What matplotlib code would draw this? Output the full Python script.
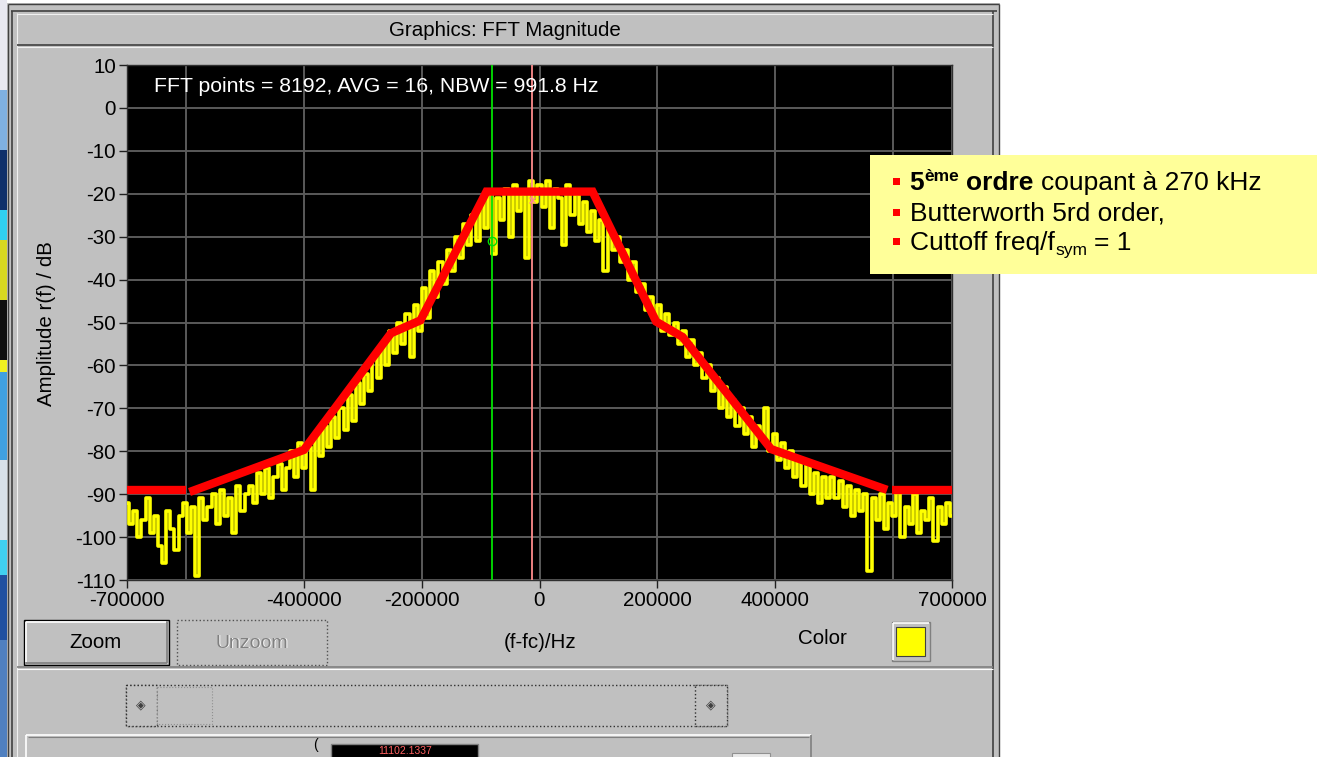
import matplotlib
matplotlib.use('Agg')
import matplotlib.pyplot as plt
from matplotlib.patches import Rectangle
from matplotlib import font_manager
import numpy as np

# ---------------- data ----------------
freq_start = -700000
freq_step = 7000
trace_db = [
    -92, -97, -94, -100, -96, -91, -99, -95, -102, -106,
    -94, -98, -103, -95, -92, -99, -93, -109, -91, -96,
    -93, -90, -97, -89, -95, -91, -99, -88, -94, -90,
    -88, -92, -85, -90, -84, -91, -86, -83, -89, -84,
    -80, -86, -78, -84, -79, -89, -76, -81, -74, -79,
    -72, -77, -70, -75, -67, -73, -64, -69, -62, -66,
    -58, -63, -55, -60, -52, -57, -50, -55, -48, -58,
    -46, -52, -42, -49, -38, -44, -36, -41, -33, -38,
    -30, -35, -27, -32, -25, -31, -22, -28, -20, -34,
    -21, -26, -19, -30, -18, -24, -20, -35, -17, -22,
    -18,
    -23, -17, -28, -19, -21, -32, -18, -25, -20, -27,
    -22, -29, -24, -31, -26, -38, -28, -33, -30, -36,
    -33, -40, -36, -43, -41, -47, -44, -49, -46, -52,
    -48, -53, -50, -55, -52, -58, -54, -60, -57, -63,
    -60, -66, -63, -70, -65, -72, -68, -74, -70, -76,
    -72, -79, -74, -77, -70, -80, -76, -82, -78, -84,
    -80, -86, -82, -88, -83, -90, -85, -92, -86, -91,
    -86, -91, -87, -93, -88, -95, -89, -94, -90, -108,
    -91, -96, -90, -98, -92, -95, -89, -100, -93, -97,
    -90, -99, -94, -96, -91, -101, -93, -97, -92, -95,
]

mask_left_f = [-700000, -600000]
mask_left_db = [-89, -89]
mask_mid_f = [-594000, -400000, -252000, -202000, -90000, 90000, 198000, 243000, 393000, 590000]
mask_mid_db = [-89.5, -79.7, -52.5, -49.5, -19.5, -19.5, -49.8, -53.4, -79.5, -89]
mask_right_f = [598000, 700000]
mask_right_db = [-89, -89]

cursor_f = [-80000, -12000]
cursor_db = [-31, -21.5]

xtick_vals = [-700000, -400000, -200000, 0, 200000, 400000, 700000]
xtick_labels = ['-700000', '-400000', '-200000', '0', '200000', '400000', '700000']
xgrid_extra = [-600000, 600000]
ytick_vals = [10, 0, -10, -20, -30, -40, -50, -60, -70, -80, -90, -100, -110]
ytick_labels = ['10', '0', '-10', '-20', '-30', '-40', '-50', '-60', '-70', '-80', '-90', '-100', '-110']

# ---------------- fonts ----------------
avail = {f.name for f in font_manager.fontManager.ttflist}
UI = 'Liberation Sans' if 'Liberation Sans' in avail else 'DejaVu Sans'
ARIAL = UI
plt.rcParams['font.family'] = [UI, 'DejaVu Sans']

W, H = 1317, 757
fig = plt.figure(figsize=(W / 100, H / 100), dpi=100, facecolor='white')

# background overlay in pixel coordinates
bg = fig.add_axes([0, 0, 1, 1], zorder=0)
bg.set_xlim(0, W)
bg.set_ylim(H, 0)
bg.axis('off')

GRAY = '#c0c0c0'
DARK = '#404040'
MID = '#808080'

def rect(a, x0, y0, x1, y1, fc, ec='none', lw=0, ls='-', z=1):
    a.add_patch(Rectangle((x0, y0), x1 - x0, y1 - y0, facecolor=fc,
                          edgecolor=ec, linewidth=lw, linestyle=ls, zorder=z))

def line(a, xs, ys, c, lw, z=2, ls='-'):
    a.plot(xs, ys, color=c, lw=lw, zorder=z, ls=ls, solid_capstyle='butt')

# desktop strip at the left
strip = [(0, 90, '#e8e8f0'), (90, 150, '#7fb0e0'), (150, 210, '#10306a'),
         (210, 240, '#30d0f0'), (240, 300, '#d8d820'), (300, 360, '#101010'),
         (360, 372, '#f0f020'), (372, 460, '#40a0e0'), (460, 540, '#d8e0e8'),
         (540, 575, '#40d0f0'), (575, 640, '#2050a0'), (640, 757, '#5080c0')]
for y0, y1, c in strip:
    rect(bg, 0, y0, 7, y1, c)

# window
rect(bg, 7, 3, 1000, H, GRAY)
line(bg, [8, 999], [4, 4], DARK, 1.0)
line(bg, [8, 8], [4, H], DARK, 1.0)
line(bg, [999, 999], [4, H], DARK, 1.0)
line(bg, [11, 997], [11, 11], DARK, 1.2)
line(bg, [12, 12], [11, H], DARK, 1.2)
line(bg, [17, 17], [13, H], '#f0f0f0', 0.8)
line(bg, [993, 993], [11, H], DARK, 1.2)
line(bg, [17, 993], [14, 14], '#f0f0f0', 0.8)
# title separator
line(bg, [17, 993], [45, 45], DARK, 1.2)
line(bg, [17, 993], [47, 47], '#f0f0f0', 0.8)
bg.text(505, 31, 'Graphics: FFT Magnitude', ha='center', va='center',
        fontsize=14.8, color='black', family=UI)

# y label
bg.text(47, 324, 'Amplitude r(f) / dB', rotation=90, ha='center', va='center',
        fontsize=14.8, color='black', family=UI)
# x label
bg.text(540, 642, '(f-fc)/Hz', ha='center', va='center', fontsize=14.8, family=UI)

# Zoom button
rect(bg, 24, 620, 169, 665, GRAY, ec='black', lw=1.0)
line(bg, [26, 166], [622, 622], 'white', 1.2)
line(bg, [26, 26], [622, 662], 'white', 1.2)
line(bg, [26, 167], [663, 663], MID, 1.2)
line(bg, [167, 167], [622, 663], MID, 1.2)
bg.text(96, 643, 'Zoom', ha='center', va='center', fontsize=14.8, family=UI)

# Unzoom (disabled) button
rect(bg, 177, 620, 327, 665, GRAY, ec='#505050', lw=1.0, ls=':')
bg.text(253, 644, 'Unzoom', ha='center', va='center', fontsize=14, color='white', family=UI)
bg.text(252, 643, 'Unzoom', ha='center', va='center', fontsize=14, color=MID, family=UI)

# Color label and swatch
bg.text(822, 639, 'Color', ha='center', va='center', fontsize=14.8, family=UI)
rect(bg, 892, 622, 930, 661, GRAY, ec=MID, lw=1.0)
line(bg, [893, 929], [623, 623], 'white', 1.2)
line(bg, [893, 893], [623, 660], 'white', 1.2)
rect(bg, 896, 627, 925, 656, '#ffff00', ec=DARK, lw=0.8)

# separator
line(bg, [17, 993], [667, 667], MID, 1.2)
line(bg, [17, 993], [669, 669], 'white', 0.8)

# scrollbar
rect(bg, 126, 685, 727, 726, GRAY, ec='#303030', lw=1.0, ls=':')
rect(bg, 126, 685, 157, 726, GRAY, ec='#303030', lw=1.0, ls=':')
rect(bg, 157, 687, 212, 724, GRAY, ec='#909090', lw=0.8, ls=':')
rect(bg, 695, 685, 727, 726, GRAY, ec='#303030', lw=1.0, ls=':')
bg.text(141, 705, '\u25c8', ha='center', va='center', fontsize=9, color='#404040', family='DejaVu Sans')
bg.text(711, 705, '\u25c8', ha='center', va='center', fontsize=9, color='#404040', family='DejaVu Sans')

# bottom panel
line(bg, [26, 811], [735, 735], 'white', 1.2)
line(bg, [26, 26], [735, H], 'white', 1.2)
line(bg, [811, 811], [735, H], MID, 1.2)
line(bg, [28, 809], [737, 737], MID, 0.8)
rect(bg, 331, 744, 478, H + 2, 'black', ec=MID, lw=1.0)
bg.text(405, 746.5, '11102.1337', ha='center', va='top', fontsize=7.5, color='#ff6060',
        family=UI)
bg.text(316, 745, '(', ha='center', va='center', fontsize=10, family=UI)
rect(bg, 732, 753, 770, H + 2, '#e8e8e8', ec='#909090', lw=0.8)

# ---------------- plot ----------------
L, R, T, B = 127, 952, 65, 580
ax = fig.add_axes([L / W, 1 - B / H, (R - L) / W, (B - T) / H], zorder=2)
ax.set_facecolor('black')
ax.set_xlim(-700000, 700000)
ax.set_ylim(-110, 10)

ax.set_xticks(xtick_vals)
ax.set_xticklabels(xtick_labels)
ax.set_xticks(xgrid_extra, minor=True)
ax.set_yticks(ytick_vals)
ax.set_yticklabels(ytick_labels)
ax.tick_params(axis='both', which='major', direction='out', length=6, width=1.0,
               color='#202020', labelsize=14.8, pad=2)
ax.tick_params(axis='x', which='minor', length=0)
ax.grid(True, axis='x', which='both', color='#5a5a5a', lw=1.4)
ax.grid(True, axis='y', which='major', color='#5a5a5a', lw=1.4)
ax.set_axisbelow(True)
for s in ax.spines.values():
    s.set_color('#303030')
    s.set_linewidth(1.0)

freqs = freq_start + freq_step * np.arange(len(trace_db))
ax.plot(freqs, trace_db, color='#ffff00', lw=2.6, drawstyle='steps-mid', zorder=3)

# cursors
ax.axvline(cursor_f[0], color='#00e000', lw=1.3, zorder=4)
ax.axvline(cursor_f[1], color='#ff8c8c', lw=1.3, zorder=4)
ax.plot([cursor_f[0]], [cursor_db[0]], marker='o', ms=6, mfc='none', mec='#00e000', mew=1.0, zorder=5)
ax.plot([cursor_f[1]], [cursor_db[1]], marker='x', ms=5, mec='#ff8c8c', mew=1.0, zorder=5)

# mask (red)
for fx, fy in [(mask_left_f, mask_left_db), (mask_mid_f, mask_mid_db), (mask_right_f, mask_right_db)]:
    ax.plot(fx, fy, color='#ff0000', lw=6.0, solid_joinstyle='miter',
            solid_capstyle='butt', zorder=6)

ax.text(-655000, 5, 'FFT points = 8192, AVG = 16, NBW = 991.8 Hz', color='white',
        fontsize=15.3, ha='left', va='center', family=UI, zorder=7)

# ---------------- yellow note box ----------------
top = fig.add_axes([0, 0, 1, 1], zorder=10)
top.set_xlim(0, W)
top.set_ylim(H, 0)
top.axis('off')
top.patch.set_alpha(0)
rect(top, 870, 155, 1317, 274, '#ffff99')
for yb in [181, 212, 241]:
    rect(top, 893, yb - 3.5, 900, yb + 3.5, '#ff0000', z=3)

fig.canvas.draw()
renderer = fig.canvas.get_renderer()

def runs(x, y, items):
    for item in items:
        if isinstance(item, (int, float)):
            x += item
            continue
        s, size, weight, dy = item
        t = top.text(x, y + dy, s, fontsize=size, fontweight=weight, ha='left',
                     va='baseline', family=ARIAL, color='black', zorder=4)
        bb = t.get_window_extent(renderer)
        x = bb.x1
    return x

runs(909, 190, [('5', 19, 'bold', 0), 1, ('ème', 12.5, 'bold', -9), 7,
                ('ordre', 19, 'bold', 0), 7, ('coupant à 270 kHz', 19, 'normal', 0)])
runs(910, 221, [('Butterworth 5rd order,', 19, 'normal', 0)])
runs(910, 250, [('Cuttoff freq/f', 19, 'normal', 0), 1, ('sym', 12.5, 'normal', 5), 6,
                ('= 1', 19, 'normal', 0)])

fig.savefig('out.png', dpi=100, facecolor='white')
